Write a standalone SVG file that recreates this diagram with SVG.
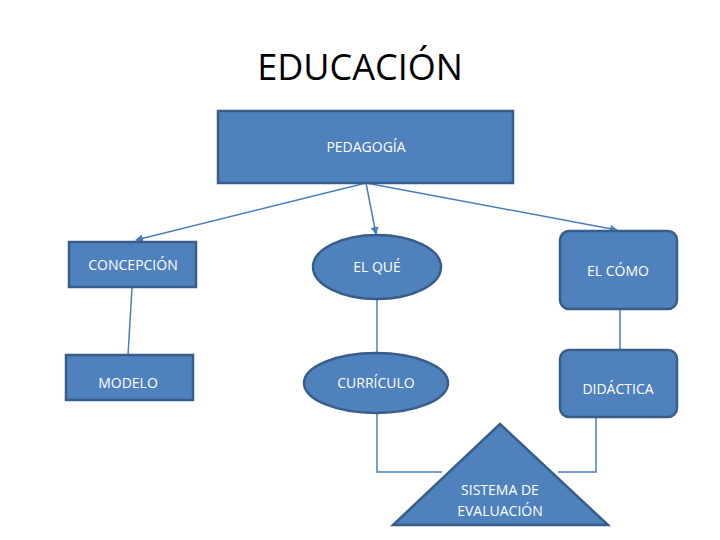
<svg xmlns="http://www.w3.org/2000/svg" width="720" height="540" viewBox="0 0 720 540">
<style>
.n{fill:#4f81bd;stroke:#385d8a;stroke-width:2.5}
.t{font-family:"Open Sans","Liberation Sans",sans-serif;font-size:14px;fill:#fff;text-anchor:middle}
.c{stroke:#4a7ebb;stroke-width:1.5;fill:none}
</style>
<defs><marker id="a" markerWidth="8" markerHeight="8" refX="7" refY="4" orient="auto" markerUnits="userSpaceOnUse"><path d="M0,0 L8,4 L0,8 Z" fill="#4a7ebb"/></marker></defs>
<text x="360" y="80" font-family="'Open Sans','Liberation Sans',sans-serif" font-size="36" text-anchor="middle" fill="#000">EDUCACIÓN</text>
<g id="connectors">
<line class="c" x1="366" y1="183" x2="136" y2="240" marker-end="url(#a)"/>
<line class="c" x1="366" y1="183" x2="376" y2="234" marker-end="url(#a)"/>
<line class="c" x1="366" y1="183" x2="617" y2="230" marker-end="url(#a)"/>
<line class="c" x1="132" y1="288" x2="128" y2="355"/>
<line class="c" x1="377" y1="299" x2="377" y2="353"/>
<line class="c" x1="620" y1="309" x2="620" y2="350"/>
<polyline class="c" points="377,413 377,472 442,472"/>
<polyline class="c" points="596,417 596,472 558,472"/>
</g>
<g id="pedagogia"><rect class="n" x="218" y="111" width="295" height="72"/><text class="t" x="366" y="152">PEDAGOGÍA</text></g>
<g id="concepcion"><rect class="n" x="69" y="242" width="127" height="45"/><text class="t" x="133" y="270">CONCEPCIÓN</text></g>
<g id="modelo"><rect class="n" x="66" y="355" width="127" height="45"/><text class="t" x="128" y="388">MODELO</text></g>
<g id="elque"><ellipse class="n" cx="377" cy="267" rx="64" ry="32"/><text class="t" x="377" y="272">EL QUÉ</text></g>
<g id="curriculo"><ellipse class="n" cx="376" cy="383" rx="72" ry="30"/><text class="t" x="376" y="388">CURRÍCULO</text></g>
<g id="elcomo"><rect class="n" x="560" y="231" width="117" height="78" rx="9"/><text class="t" x="618" y="276">EL CÓMO</text></g>
<g id="didactica"><rect class="n" x="560" y="350" width="117" height="67" rx="9"/><text class="t" x="618" y="394">DIDÁCTICA</text></g>
<g id="evaluacion"><polygon class="n" points="500,424 608,525 393,525"/><text class="t" x="500" y="495">SISTEMA DE</text><text class="t" x="500" y="516">EVALUACIÓN</text></g>
</svg>
